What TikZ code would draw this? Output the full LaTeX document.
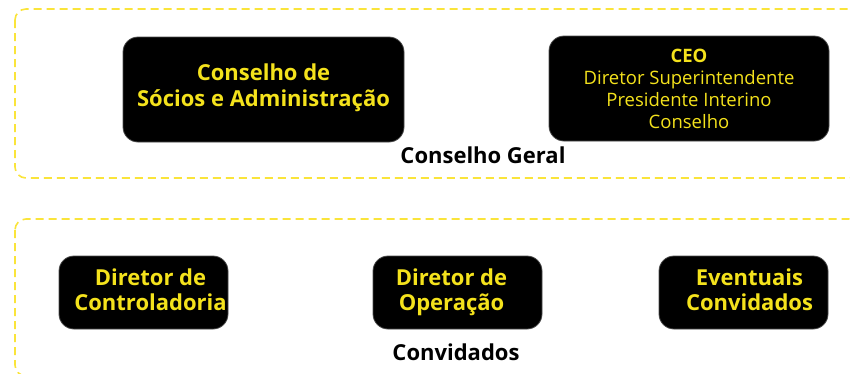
\documentclass[tikz,border=0pt]{standalone}
\usepackage{fontspec}
\setmainfont{Open Sans}
\usepackage{xcolor}
\definecolor{amarelo}{HTML}{F4E21C}
\definecolor{linha}{HTML}{FAE43A}

\begin{document}
\begin{tikzpicture}[x=1pt,y=-1pt,
    caixa/.style={fill=black,draw=black!70,line width=0.8pt,rounded corners=15pt,
      text=amarelo,align=center,inner sep=0pt},
    grupo/.style={draw=linha,line width=1.6pt,dash pattern=on 8pt off 5pt,rounded corners=11pt},
    rotulo/.style={font=\fontsize{22}{24}\selectfont\bfseries,text=black}]
    \useasboundingbox (0,0) rectangle (850,373);
    \clip (0,0) rectangle (850,373);
    % grupos
    \draw[grupo] (15,9) rectangle (860,178);
    \draw[grupo] (15,219) rectangle (860,376);
    % conselho geral
    \node[caixa,minimum width=281pt,minimum height=105pt,
      font=\fontsize{22}{26}\selectfont\bfseries] (conselho) at (263.5,89.5)
      {Conselho de\\S\'ocios e Administra\c{c}\~ao\\[-17pt]};
    \node[caixa,minimum width=280pt,minimum height=105pt,
      font=\fontsize{18.5}{22}\selectfont] (ceo) at (689,88.5)
      {\textbf{CEO}\\Diretor Superintendente\\Presidente Interino\\Conselho};
    \node[rotulo] (geral) at (483,155) {Conselho Geral};
    % convidados
    \node[caixa,minimum width=169pt,minimum height=73pt,
      font=\fontsize{22}{25}\selectfont\bfseries] (controladoria) at (143.5,292.5)
      {\hspace*{14pt}Diretor de\\\hspace*{14pt}Controladoria\\[-19pt]};
    \node[caixa,minimum width=169pt,minimum height=73pt,
      font=\fontsize{22}{25}\selectfont\bfseries] (operacao) at (457.5,292.5)
      {\hspace*{-12pt}Diretor de\\\hspace*{-12pt}Opera\c{c}\~ao\\[-19pt]};
    \node[caixa,minimum width=169pt,minimum height=73pt,
      font=\fontsize{22}{25}\selectfont\bfseries] (eventuais) at (743.5,292.5)
      {\hspace*{12pt}Eventuais\\\hspace*{12pt}Convidados\\[-19pt]};
    \node[rotulo] (convlabel) at (456,352) {Convidados};
  \end{tikzpicture}
\end{document}
